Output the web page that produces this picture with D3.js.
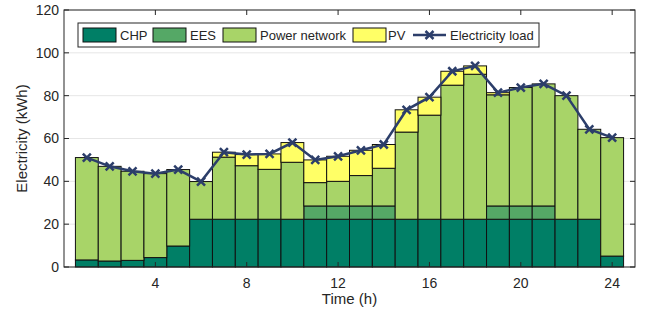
<!DOCTYPE html>
<html>
<head>
<meta charset="utf-8">
<script src="https://cdn.jsdelivr.net/npm/d3@7"></script>
<style>
  body { margin: 0; background: #fff; }
  svg text { font-family: "Liberation Sans", Arial, sans-serif; fill: #262626; }
</style>
</head>
<body>
<svg id="chart" width="645" height="320"></svg>
<script>
'use strict';

var hours = [1, 2, 3, 4, 5, 6, 7, 8, 9, 10, 11, 12, 13, 14, 15, 16, 17, 18, 19, 20, 21, 22, 23, 24];
var chp = [3.3, 2.8, 3.1, 4.4, 9.8, 22.3, 22.3, 22.3, 22.3, 22.3, 22.3, 22.3, 22.3, 22.3, 22.3, 22.3, 22.3, 22.3, 22.3, 22.3, 22.3, 22.3, 22.3, 5.1];
var ees = [0, 0, 0, 0, 0, 0, 0, 0, 0, 0, 6.2, 6.2, 6.2, 6.2, 0, 0, 0, 0, 6.2, 6.2, 6.2, 0, 0, 0];
var powerNetwork = [47.8, 44.2, 41.6, 39.2, 35.7, 17.6, 29.0, 25.0, 23.3, 26.6, 10.9, 11.5, 14.2, 17.6, 40.7, 48.6, 62.6, 67.7, 51.9, 55.3, 57.0, 57.7, 42.0, 55.3];
var pv = [0, 0, 0, 0, 0, 0, 2.3, 5.2, 7.2, 9.2, 10.6, 11.7, 11.8, 11.1, 10.4, 8.4, 6.5, 3.9, 1.0, 0, 0, 0, 0, 0];
var load = [51.1, 47.0, 44.7, 43.6, 45.5, 39.9, 53.6, 52.5, 52.8, 58.1, 50.0, 51.7, 54.5, 57.2, 73.4, 79.3, 91.4, 93.9, 81.4, 83.8, 85.5, 80.0, 64.3, 60.4];

var xTicks = [4, 8, 12, 16, 20, 24];
var yTicks = [0, 20, 40, 60, 80, 100, 120];

var seriesKeys = ['CHP', 'EES', 'Power network', 'PV'];
var seriesColors = ['#007f66', '#55a866', '#a8d468', '#ffff66'];
var lineColor = '#2c3e6a';

var margins = { left: 64, right: 10, top: 10, bottom: 53 };
var width = 645 - margins.left - margins.right;
var height = 320 - margins.top - margins.bottom;

var svg = d3.select('#chart');
var g = svg.append('g').attr('transform', 'translate(' + margins.left + ',' + margins.top + ')');

var x = d3.scaleLinear().domain([0, 25]).range([0, width]);
var y = d3.scaleLinear().domain([0, 120]).range([height, 0]);

var rows = hours.map(function (h, i) {
	return { hour: h, 'CHP': chp[i], 'EES': ees[i], 'Power network': powerNetwork[i], 'PV': pv[i] };
});
var stacked = d3.stack().keys(seriesKeys)(rows);

// grid lines
g.selectAll('line.grid').data(yTicks).enter().append('line')
	.attr('class', 'grid')
	.attr('x1', 0).attr('x2', width)
	.attr('y1', function (d) { return y(d); })
	.attr('y2', function (d) { return y(d); })
	.attr('stroke', '#e6e6e6').attr('stroke-width', 1);

// bars
var layer = g.selectAll('g.layer').data(stacked).enter().append('g')
	.attr('class', 'layer')
	.attr('fill', function (d, i) { return seriesColors[i]; });

layer.selectAll('rect').data(function (d) {
	return d.filter(function (p) { return p[1] - p[0] > 0; });
}).enter().append('rect')
	.attr('x', function (d) { return x(d.data.hour - 0.5); })
	.attr('width', function (d) { return x(d.data.hour + 0.5) - x(d.data.hour - 0.5); })
	.attr('y', function (d) { return y(d[1]); })
	.attr('height', function (d) { return y(d[0]) - y(d[1]); })
	.attr('stroke', '#111').attr('stroke-width', 1);

// load line
var line = d3.line()
	.x(function (d, i) { return x(hours[i]); })
	.y(function (d) { return y(d); });

g.append('path').datum(load)
	.attr('d', line)
	.attr('fill', 'none')
	.attr('stroke', lineColor)
	.attr('stroke-width', 2.5);

var ms = 4;
function crossPath(cx, cy) {
	return 'M' + (cx - ms) + ',' + (cy - ms) + 'L' + (cx + ms) + ',' + (cy + ms) +
		'M' + (cx - ms) + ',' + (cy + ms) + 'L' + (cx + ms) + ',' + (cy - ms);
}

g.selectAll('path.marker').data(load).enter().append('path')
	.attr('class', 'marker')
	.attr('d', function (d, i) { return crossPath(x(hours[i]), y(d)); })
	.attr('stroke', lineColor)
	.attr('stroke-width', 2.5)
	.attr('fill', 'none');

// axes box and ticks
var axisColor = '#262626';
g.append('rect')
	.attr('x', 0).attr('y', 0).attr('width', width).attr('height', height)
	.attr('fill', 'none').attr('stroke', axisColor).attr('stroke-width', 1);

var tl = 5;
xTicks.forEach(function (t) {
	g.append('line').attr('x1', x(t)).attr('x2', x(t)).attr('y1', height).attr('y2', height - tl).attr('stroke', axisColor);
	g.append('line').attr('x1', x(t)).attr('x2', x(t)).attr('y1', 0).attr('y2', tl).attr('stroke', axisColor);
	g.append('text').attr('x', x(t)).attr('y', height + 21)
		.attr('text-anchor', 'middle').style('font-size', '14px').text(t);
});

yTicks.forEach(function (t) {
	g.append('line').attr('x1', 0).attr('x2', tl).attr('y1', y(t)).attr('y2', y(t)).attr('stroke', axisColor);
	g.append('line').attr('x1', width).attr('x2', width - tl).attr('y1', y(t)).attr('y2', y(t)).attr('stroke', axisColor);
	g.append('text').attr('x', -5).attr('y', y(t)).attr('dy', '0.35em')
		.attr('text-anchor', 'end').style('font-size', '14px').text(t);
});

// axis labels
svg.append('text')
	.attr('x', margins.left + width / 2).attr('y', 304)
	.attr('text-anchor', 'middle').style('font-size', '15px')
	.text('Time (h)');

svg.append('text')
	.attr('transform', 'translate(27,' + (margins.top + height / 2) + ') rotate(-90)')
	.attr('text-anchor', 'middle').style('font-size', '15px')
	.text('Electricity (kWh)');

// legend
var legend = svg.append('g').attr('class', 'legend');
legend.append('rect')
	.attr('x', 78).attr('y', 23).attr('width', 461).attr('height', 24)
	.attr('fill', '#fff').attr('stroke', '#262626').attr('stroke-width', 1);

var legendItems = [
	{ label: 'CHP', x: 83, tx: 120 },
	{ label: 'EES', x: 153, tx: 190 },
	{ label: 'Power network', x: 223, tx: 260 },
	{ label: 'PV', x: 353, tx: 388 }
];
legendItems.forEach(function (d, i) {
	legend.append('rect')
		.attr('x', d.x).attr('y', 28).attr('width', 33).attr('height', 14)
		.attr('fill', seriesColors[i]).attr('stroke', '#111').attr('stroke-width', 1);
	legend.append('text')
		.attr('x', d.tx).attr('y', 35).attr('dy', '0.35em')
		.style('font-size', '13px').text(d.label);
});

legend.append('line')
	.attr('x1', 413).attr('x2', 446).attr('y1', 35).attr('y2', 35)
	.attr('stroke', lineColor).attr('stroke-width', 2.5);
legend.append('path')
	.attr('d', crossPath(429.5, 35))
	.attr('stroke', lineColor).attr('stroke-width', 2.5).attr('fill', 'none');
legend.append('text')
	.attr('x', 450).attr('y', 35).attr('dy', '0.35em')
	.style('font-size', '13px').text('Electricity load');
</script>
</body>
</html>
